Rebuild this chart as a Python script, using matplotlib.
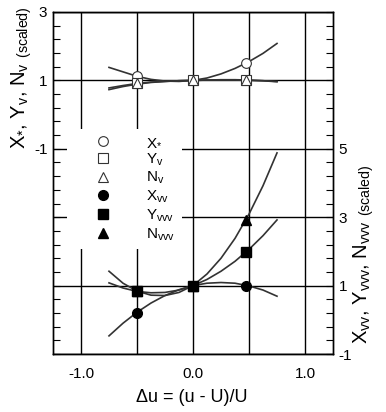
import numpy as np
import matplotlib.pyplot as plt
from matplotlib.ticker import FixedLocator

plt.rcParams['font.family'] = ['Liberation Sans', 'DejaVu Sans']
plt.rcParams['mathtext.fontset'] = 'custom'
plt.rcParams['mathtext.rm'] = 'Liberation Sans'
plt.rcParams['mathtext.it'] = 'Liberation Sans'
plt.rcParams['mathtext.bf'] = 'Liberation Sans:bold'

# measured points at du = -0.5, 0, 0.47
du_pts = [-0.5, 0.0, 0.47]
xs_pts = [1.12, 1.0, 1.52]
yv_pts = [0.91, 1.0, 1.0]
nv_pts = [0.93, 1.0, 1.02]
xvv_pts = [0.21, 1.0, 1.0]
yvvv_pts = [0.83, 1.0, 1.97]
nvvv_pts = [0.84, 1.0, 2.91]

# fitted curves
du_fit = [-0.75, -0.625, -0.5, -0.375, -0.25, -0.125, 0.0,
          0.125, 0.25, 0.375, 0.5, 0.625, 0.75]
xs_fit = [1.38, 1.25, 1.12, 1.03, 0.98, 0.97, 1.0, 1.07, 1.19, 1.35, 1.55, 1.79, 2.08]
yv_fit = [0.78, 0.85, 0.91, 0.95, 0.97, 0.99, 1.0, 1.01, 1.01, 1.01, 1.0, 0.99, 0.97]
nv_fit = [0.73, 0.82, 0.89, 0.94, 0.97, 0.99, 1.0, 1.01, 1.02, 1.02, 1.01, 0.99, 0.96]
xvv_fit = [-0.47, -0.10, 0.22, 0.49, 0.71, 0.88, 1.0, 1.07, 1.09, 1.07, 0.99, 0.87, 0.69]
yvvv_fit = [1.08, 0.93, 0.83, 0.79, 0.80, 0.87, 1.0, 1.18, 1.42, 1.71, 2.06, 2.46, 2.92]
nvvv_fit = [1.42, 1.07, 0.84, 0.72, 0.71, 0.80, 1.0, 1.34, 1.80, 2.38, 3.09, 3.92, 4.88]

line_col = '#333333'
W, H = 386, 412
fig = plt.figure(figsize=(W / 100, H / 100), dpi=100)
ax = fig.add_axes([53 / W, 1 - 354 / H, 280 / W, 342 / H])
ax2 = ax.twinx()

ax.set_xlim(-1.25, 1.25)
ax.set_ylim(-7, 3)
ax2.set_ylim(-1, 9)

# top group (left scale)
ax.plot(du_fit, xs_fit, color=line_col, lw=1.2, zorder=3)
ax.plot(du_fit, yv_fit, color=line_col, lw=1.2, zorder=3)
ax.plot(du_fit, nv_fit, color=line_col, lw=1.2, zorder=3)
h1, = ax.plot(du_pts, xs_pts, 'o', ms=7, mfc='white', mec='#333333', mew=0.8, ls='none', zorder=4)
h2, = ax.plot(du_pts, yv_pts, 's', ms=7, mfc='white', mec='#333333', mew=0.8, ls='none', zorder=4)
h3, = ax.plot(du_pts, nv_pts, '^', ms=7, mfc='white', mec='#333333', mew=0.8, ls='none', zorder=4)

# bottom group (right scale)
ax2.plot(du_fit, xvv_fit, color=line_col, lw=1.2, zorder=3)
ax2.plot(du_fit, yvvv_fit, color=line_col, lw=1.2, zorder=3)
ax2.plot(du_fit, nvvv_fit, color=line_col, lw=1.2, zorder=3)
h6, = ax2.plot(du_pts, nvvv_pts, '^', ms=7, color='black', ls='none', zorder=4)
h4, = ax2.plot(du_pts, xvv_pts, 'o', ms=7, color='black', ls='none', zorder=4)
h5, = ax2.plot(du_pts, yvvv_pts, 's', ms=7, color='black', ls='none', zorder=4)

# grid and ticks
ax.set_xticks([-1, -0.5, 0, 0.5, 1])
ax.set_xticklabels(['-1.0', '', '0.0', '', '1.0'])
ax.set_yticks([-7, -5, -3, -1, 1, 3])
ax.set_yticklabels(['', '', '', '-1', '1', '3'])
ax.yaxis.set_minor_locator(FixedLocator(np.linspace(-7, 3, 26)))
ax.grid(True, color='black', lw=1)
ax.set_axisbelow(True)
ax.tick_params(axis='y', which='both', direction='in', length=5, width=0.8, labelsize=11, pad=4)
ax.tick_params(axis='x', length=0, labelsize=11, pad=9)

ax2.set_yticks([-1, 1, 3, 5])
ax2.set_yticklabels(['-1', '1', '3', '5'])
ax2.yaxis.set_minor_locator(FixedLocator(np.linspace(-1, 9, 26)))
ax2.tick_params(axis='y', which='both', direction='in', length=5, width=0.8, labelsize=11, pad=4)

for a in (ax, ax2):
    for s in a.spines.values():
        s.set_linewidth(1)

labels = ['X$_{*}$', 'Y$_{v}$', 'N$_{v}$', 'X$_{vv}$', 'Y$_{vvv}$', 'N$_{vvv}$']
leg = ax2.legend([h1, h2, h3, h4, h5, h6], labels, loc='upper left',
                 bbox_to_anchor=(67 / W, 1 - 129 / H), bbox_transform=fig.transFigure,
                 fontsize=11, frameon=True, fancybox=False, framealpha=1,
                 facecolor='white', edgecolor='none', borderaxespad=0,
                 borderpad=0.4, handlelength=3.9, handletextpad=0.9, labelspacing=0.15)

fig.text(22 / W, 1 - 78 / H, 'X$_{*}$, Y$_{v}$, N$_{v}$ $_{\\mathrm{(scaled)}}$',
         rotation=90, ha='center', va='center', fontsize=14.5)
fig.text(364 / W, 1 - 254 / H, 'X$_{vv}$, Y$_{vvv}$, N$_{vvv}$ $_{\\mathrm{(scaled)}}$',
         rotation=90, ha='center', va='center', fontsize=14.5)
fig.text(192 / W, 1 - 398 / H, 'Δu = (u - U)/U', ha='center', va='center', fontsize=13)

fig.savefig('out.png', dpi=100)
